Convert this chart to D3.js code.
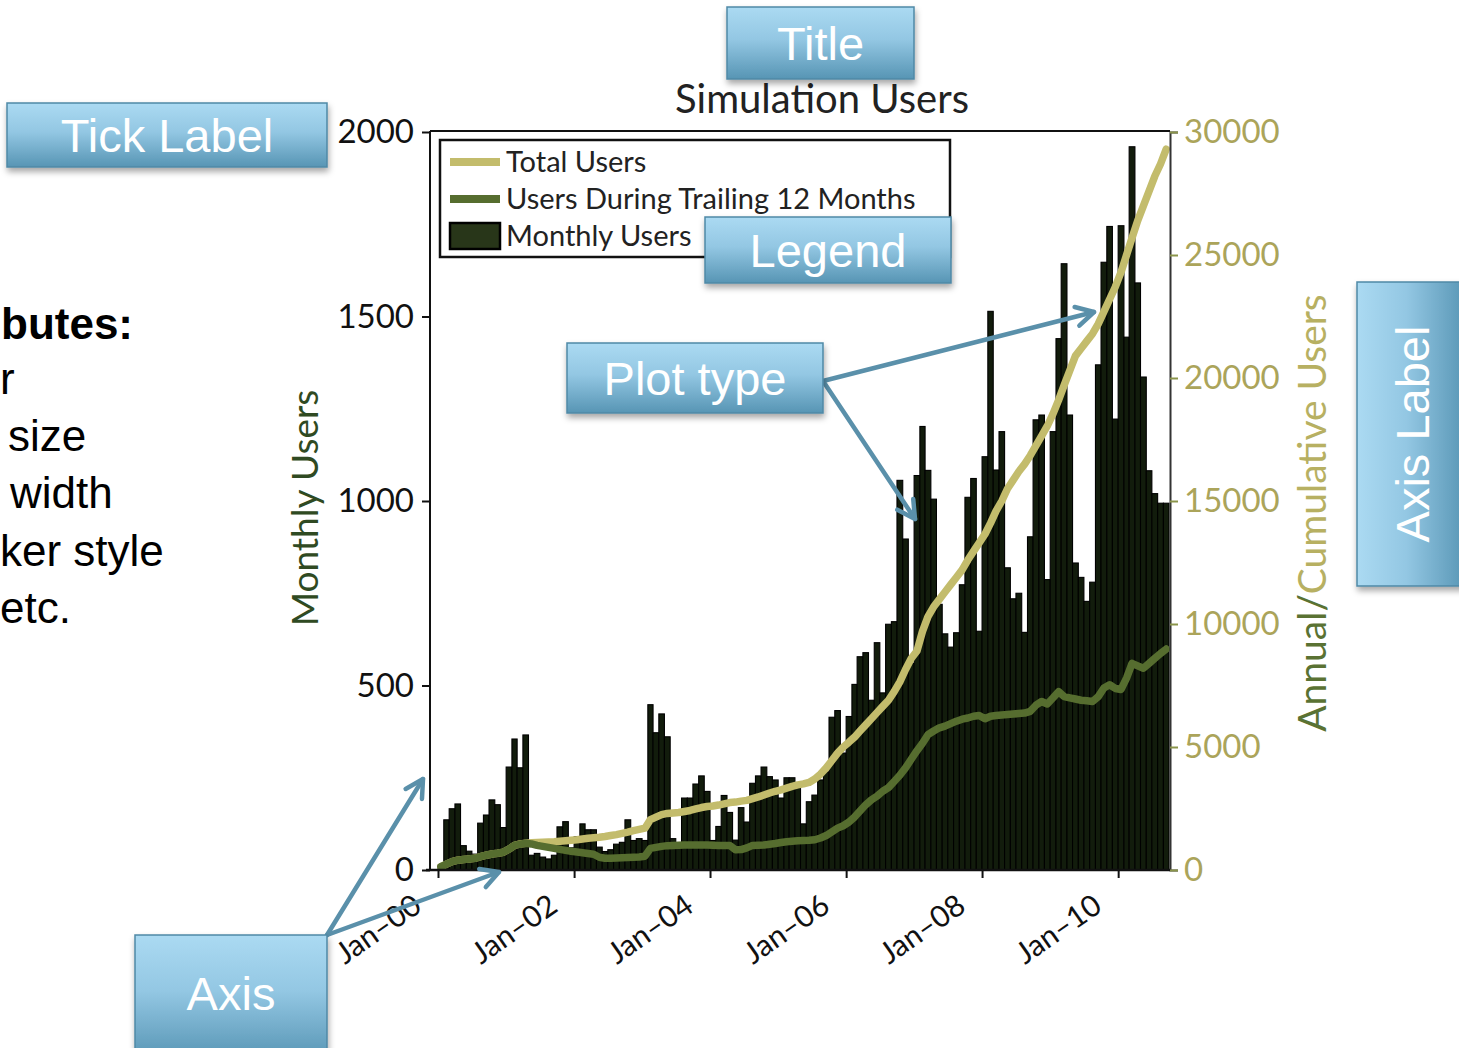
<!DOCTYPE html>
<html><head><meta charset="utf-8">
<script src="https://cdn.jsdelivr.net/npm/d3@7"></script>
<style>body{margin:0;background:#fff}svg{display:block}</style>
</head><body>
<svg id="c" width="1459" height="1048"></svg>
<script>
// ---------------- data ----------------
const months = d3.timeMonth.range(new Date(2000,0,1), new Date(2010,9,1)); // Jan-2000 .. Sep-2010
const monthlyUsers = [10,136,166,179,66,51,43,127,149,190,177,115,
279,355,277,366,40,45,35,30,40,117,131,60,
90,125,109,109,62,50,55,70,75,136,80,85,
80,448,372,423,361,85,70,195,195,233,255,213,
80,118,202,156,81,169,130,235,255,279,253,244,
195,250,250,225,125,185,203,244,266,414,432,317,
416,503,578,589,460,616,480,666,673,1056,897,560,
1069,1202,1083,1005,720,640,604,643,773,1010,1061,647,
1120,1514,1084,1188,819,735,750,644,903,1220,1233,787,
1188,1440,1643,1233,832,793,728,780,1369,1647,1744,1222,
1746,1444,1960,1591,1336,1082,1020,994,994];
const totalUsers = [135,240,340,400,430,450,475,540,600,650,680,720,
850,1000,1060,1090,1110,1120,1130,1140,1150,1170,1190,1210,
1230,1260,1290,1310,1330,1360,1400,1440,1490,1540,1600,1650,
1700,2050,2150,2250,2300,2320,2340,2380,2420,2480,2540,2580,
2600,2640,2690,2740,2760,2800,2830,2900,2970,3050,3130,3200,
3260,3330,3400,3460,3500,3560,3700,3900,4150,4450,4750,5000,
5200,5400,5650,5900,6150,6400,6650,6900,7250,7650,8150,8600,
8900,9700,10300,10700,11000,11300,11600,11900,12200,12600,12950,13300,
13650,14100,14600,15000,15500,15850,16200,16500,16850,17250,17650,18050,
18550,19100,19700,20300,20900,21200,21500,21800,22200,22700,23200,23700,
24300,25000,25700,26400,27000,27600,28200,28700,29300];
const trailingUsers = [135,240,340,400,430,450,475,540,600,650,680,720,
850,1000,1050,1085,1060,1000,960,920,880,840,800,760,
730,700,670,640,520,480,480,490,500,510,520,530,
560,880,920,960,990,1000,1010,1017,1020,1020,1020,1020,
1010,1000,1000,1000,820,830,900,1000,1010,1020,1050,1080,
1120,1150,1170,1190,1200,1210,1230,1300,1400,1550,1700,1800,
1950,2150,2400,2650,2850,3000,3200,3350,3600,3850,4150,4500,
4850,5150,5500,5650,5780,5850,5950,6050,6130,6180,6250,6280,
6150,6250,6280,6300,6320,6340,6360,6380,6450,6700,6850,6750,
7000,7250,7050,7000,6950,6900,6880,6850,7050,7400,7530,7380,
7340,7800,8400,8300,8200,8400,8600,8800,8980];
const leftTicks = [0,500,1000,1500,2000];
const rightTicks = [0,5000,10000,15000,20000,25000,30000];
const xTickDates = [new Date(2000,0,1),new Date(2002,0,1),new Date(2004,0,1),new Date(2006,0,1),new Date(2008,0,1),new Date(2010,0,1)];
const xTickLabels = ["Jan\u201300","Jan\u201302","Jan\u201304","Jan\u201306","Jan\u201308","Jan\u201310"];
const legendLabels = ["Total Users","Users During Trailing 12 Months","Monthly Users"];
// visible fragments of the slide's bullet text (cut off by the slide edge)
const sideText = ["butes:","r","size","width","ker style","etc."];

// ---------------- layout ----------------
const svg = d3.select("#c");
const L = 430, R = 1170, T = 132, B = 870;
const FONT = "Lato, 'Open Sans', sans-serif";
const YEL = "#c3bc6c", GRN = "#566d2f";

const x = d3.scaleTime().domain([months[0], d3.timeMonth.offset(months[months.length-1],1)]).range([438, R-1]);
const yL = d3.scaleLinear().domain([0,2000]).range([B,T]);
const yR = d3.scaleLinear().domain([0,30000]).range([B,T]);

const defs = svg.append("defs");
const g1 = defs.append("linearGradient").attr("id","boxv").attr("x1",0).attr("y1",0).attr("x2",0).attr("y2",1);
g1.append("stop").attr("offset","0%").attr("stop-color","#abdaf2");
g1.append("stop").attr("offset","45%").attr("stop-color","#93c7e3");
g1.append("stop").attr("offset","100%").attr("stop-color","#5795b4");
const g2 = defs.append("linearGradient").attr("id","boxh").attr("x1",0).attr("y1",0).attr("x2",1).attr("y2",0);
g2.append("stop").attr("offset","0%").attr("stop-color","#abdaf2");
g2.append("stop").attr("offset","45%").attr("stop-color","#93c7e3");
g2.append("stop").attr("offset","100%").attr("stop-color","#5795b4");
const f = defs.append("filter").attr("id","sh").attr("x","-20%").attr("y","-20%").attr("width","140%").attr("height","150%");
f.append("feDropShadow").attr("dx",1).attr("dy",4).attr("stdDeviation",3).attr("flood-color","#000").attr("flood-opacity",0.35);

// bars
svg.append("g").selectAll("rect").data(monthlyUsers).join("rect")
  .attr("x",(d,i)=>x(months[i]))
  .attr("width",(d,i)=>x(d3.timeMonth.offset(months[i],1))-x(months[i]))
  .attr("y",d=>yL(d)).attr("height",d=>B-yL(d))
  .attr("fill","#121c0c").attr("stroke","#000").attr("stroke-width",1.1);

const cx = i => (x(months[i]) + x(d3.timeMonth.offset(months[i],1)))/2;
const line = d3.line().x((d,i)=>cx(i)).y(d=>yR(d));
svg.append("path").datum(totalUsers).attr("d",line).attr("fill","none")
  .attr("stroke",YEL).attr("stroke-width",7.5).attr("stroke-linejoin","round").attr("stroke-linecap","round");
svg.append("path").datum(trailingUsers).attr("d",line).attr("fill","none")
  .attr("stroke",GRN).attr("stroke-width",7.5).attr("stroke-linejoin","round").attr("stroke-linecap","round");

// frame
svg.append("line").attr("x1",L).attr("x2",R).attr("y1",T-1).attr("y2",T-1).attr("stroke","#111").attr("stroke-width",2);
svg.append("line").attr("x1",L).attr("x2",L).attr("y1",T-1).attr("y2",B).attr("stroke","#111").attr("stroke-width",2);

// left axis
const ax1 = svg.append("g").attr("transform",`translate(${L},0)`)
  .call(d3.axisLeft(yL).tickValues(leftTicks).tickSize(8).tickPadding(8).tickFormat(d3.format("d")));
ax1.select(".domain").remove();
ax1.selectAll("line").attr("stroke","#111").attr("stroke-width",2);
ax1.selectAll("text").attr("font-family",FONT).attr("font-size",33).attr("fill","#111");

// right axis
const ax2 = svg.append("g").attr("transform",`translate(${R},0)`)
  .call(d3.axisRight(yR).tickValues(rightTicks).tickSize(8).tickPadding(6).tickFormat(d3.format("d")));
ax2.select(".domain").attr("stroke","#333").attr("stroke-width",2);
ax2.selectAll("line").attr("stroke","#8a944a").attr("stroke-width",2);
ax2.selectAll("text").attr("font-family",FONT).attr("font-size",33).attr("fill","#aba45a");

// bottom axis
const ax3 = svg.append("g").attr("transform",`translate(0,${B})`)
  .call(d3.axisBottom(x).tickValues(xTickDates).tickSize(8).tickFormat((d,i)=>xTickLabels[i]));
ax3.select(".domain").attr("d",`M${L-4},0H${R}`).attr("stroke","#111").attr("stroke-width",2.5);
ax3.selectAll("line").attr("stroke","#111").attr("stroke-width",2);
ax3.selectAll("text").attr("font-family",FONT).attr("font-size",30).attr("fill","#111")
  .attr("text-anchor","end").attr("x",0).attr("y",0).attr("dy",0)
  .attr("transform","translate(-15,40) rotate(-35)");

// title & axis labels
svg.append("text").attr("x",822).attr("y",113).attr("text-anchor","middle")
  .attr("font-family",FONT).attr("font-size",40).attr("fill","#222").text("Simulation Users");
svg.append("text").attr("transform","translate(318,508) rotate(-90)").attr("text-anchor","middle")
  .attr("font-family",FONT).attr("font-size",37).attr("fill","#2f4a22").text("Monthly Users");
const rl = svg.append("text").attr("transform","translate(1326,513) rotate(-90)").attr("text-anchor","middle")
  .attr("font-family",FONT).attr("font-size",39);
rl.append("tspan").attr("fill","#5a7233").text("Annual/");
rl.append("tspan").attr("fill","#b7b062").text("Cumulative Users");

// legend
const lg = svg.append("g");
lg.append("rect").attr("x",440).attr("y",140).attr("width",510).attr("height",117).attr("fill","#fff").attr("stroke","#111").attr("stroke-width",2.5);
const ly = [162,199,236];
lg.append("line").attr("x1",450).attr("x2",500).attr("y1",ly[0]).attr("y2",ly[0]).attr("stroke",YEL).attr("stroke-width",8);
lg.append("line").attr("x1",450).attr("x2",500).attr("y1",ly[1]).attr("y2",ly[1]).attr("stroke",GRN).attr("stroke-width",8);
lg.append("rect").attr("x",450).attr("y",223).attr("width",50).attr("height",26).attr("fill","#283619").attr("stroke","#000").attr("stroke-width",2.5);
legendLabels.forEach((t,i)=>lg.append("text").attr("x",506).attr("y",ly[i]+10).attr("font-family",FONT).attr("font-size",29).attr("fill","#222").text(t));

// side text
const sideX = [1,0,8,10,0,0];
const sideBase = [339,394,451,508,566,623];
sideText.forEach((t,i)=>svg.append("text").attr("x",sideX[i]).attr("y",sideBase[i])
  .attr("font-family","'Liberation Sans', Arial, sans-serif").attr("font-size",44)
  .attr("font-weight",i===0?"bold":"normal").attr("fill","#000").text(t));

// arrows
const AC = "#5a90aa";
function arrow(x1,y1,x2,y2){
  const g = svg.append("g");
  g.append("line").attr("x1",x1).attr("y1",y1).attr("x2",x2).attr("y2",y2).attr("stroke",AC).attr("stroke-width",4.5).attr("stroke-linecap","round");
  const a = Math.atan2(y2-y1,x2-x1), h=20, s=0.5;
  g.append("path").attr("d",`M${x2-h*Math.cos(a-s)},${y2-h*Math.sin(a-s)}L${x2},${y2}L${x2-h*Math.cos(a+s)},${y2-h*Math.sin(a+s)}`)
    .attr("fill","none").attr("stroke",AC).attr("stroke-width",4.5).attr("stroke-linecap","round").attr("stroke-linejoin","round");
}
arrow(823,381,1094,312);
arrow(823,381,915,519);
arrow(327,935,423,779);
arrow(327,935,499,872);

// annotation boxes
function box(x0,y0,w,h,label,vertical,ty){
  const g = svg.append("g");
  g.append("rect").attr("x",x0).attr("y",y0).attr("width",w).attr("height",h)
    .attr("fill",vertical?"url(#boxh)":"url(#boxv)").attr("stroke","#4f89a6").attr("stroke-width",1.5).attr("filter","url(#sh)");
  const t = g.append("text").attr("text-anchor","middle").attr("font-family","'Liberation Sans', Arial, sans-serif")
    .attr("font-size",47).attr("fill","#fff").text(label);
  if(vertical) t.attr("transform",`translate(${x0+w/2+17},${y0+h/2}) rotate(-90)`);
  else t.attr("x",x0+w/2).attr("y",ty!==undefined?ty:y0+h/2+17);
}
box(727,7,187,72,"Title");
box(7,103,320,64,"Tick Label");
box(705,217,246,66,"Legend");
box(567,343,256,70,"Plot type");
box(135,935,192,125,"Axis",false,1010);
box(1357,282,110,304,"Axis Label",true);
</script>
</body></html>
